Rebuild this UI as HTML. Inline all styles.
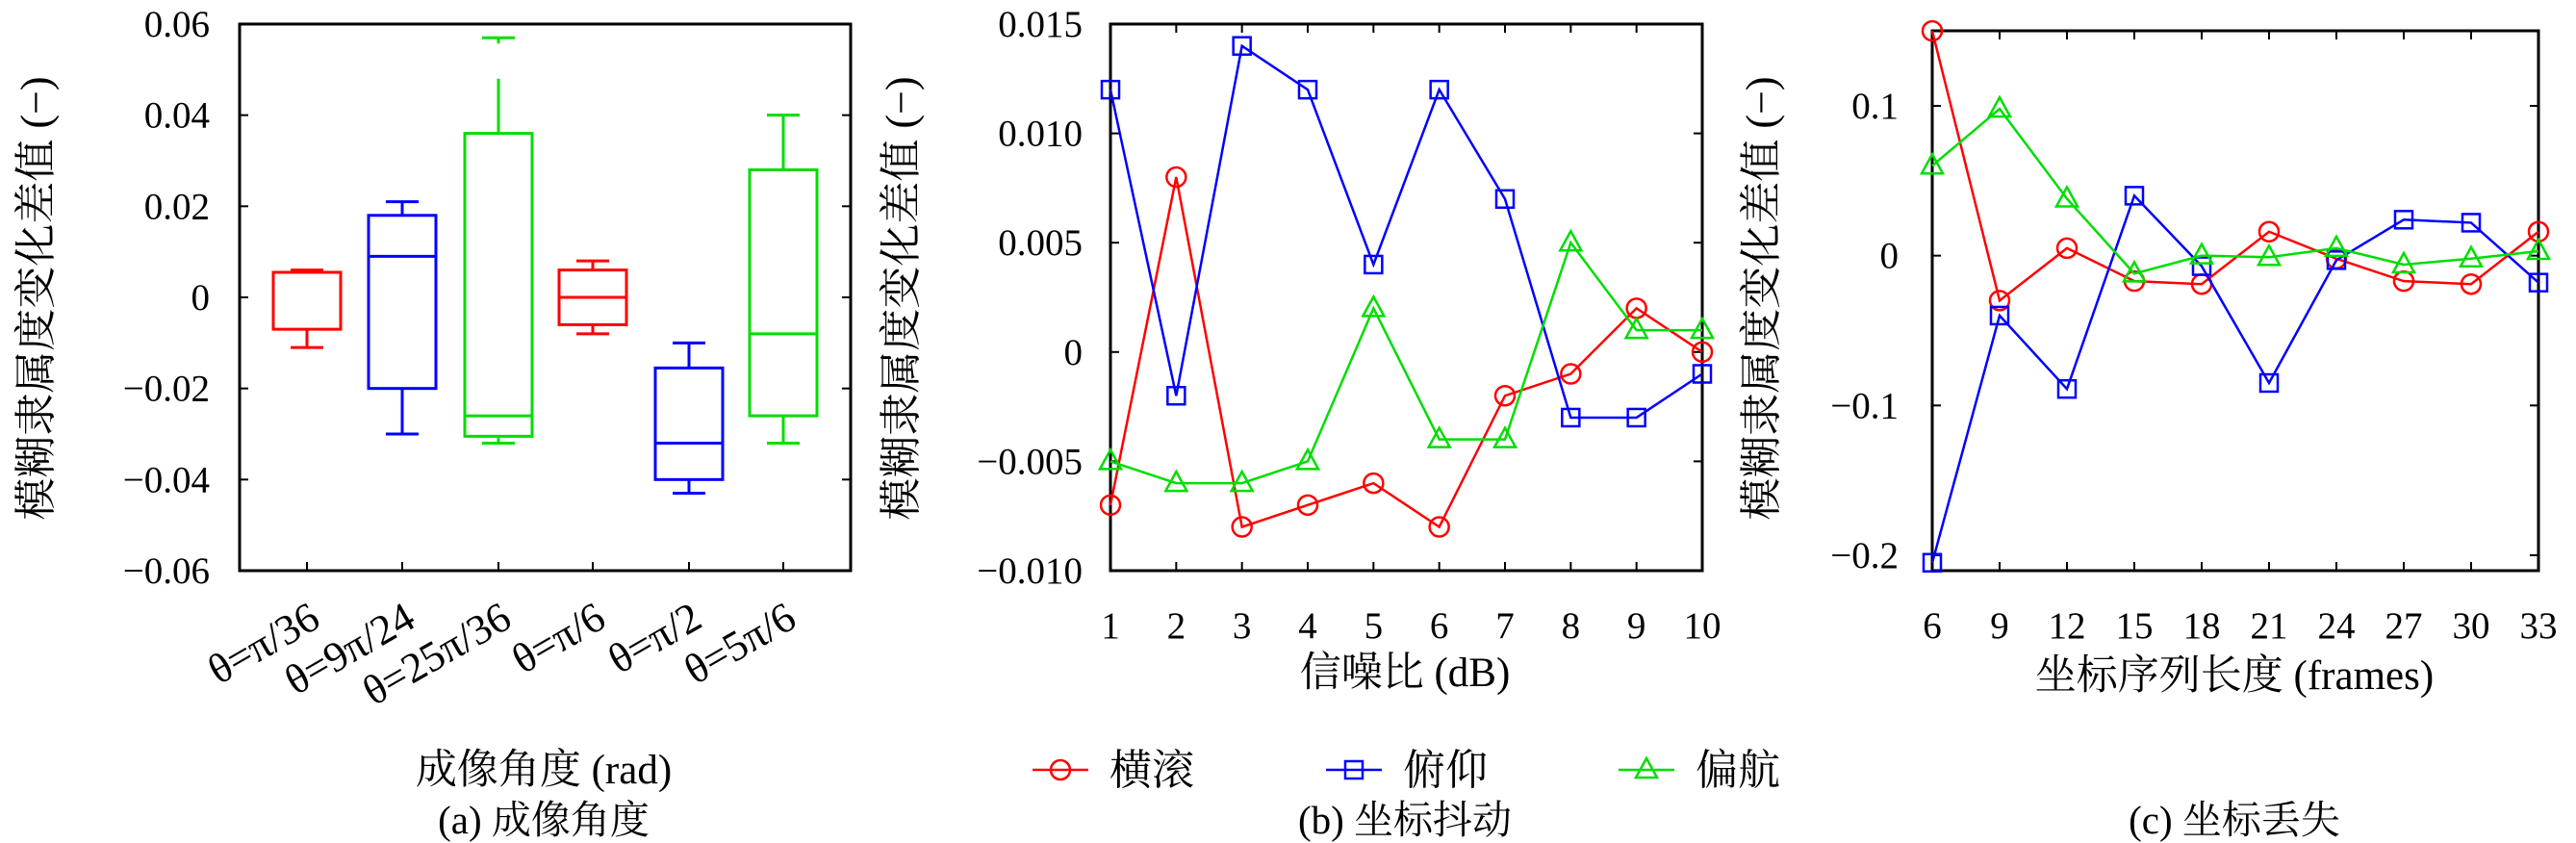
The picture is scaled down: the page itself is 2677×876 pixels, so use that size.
<!DOCTYPE html>
<html><head><meta charset="utf-8"><style>
html,body{margin:0;padding:0;background:#fff}
svg{display:block}
text{font-family:"Liberation Serif","Noto Serif CJK SC","Noto Sans CJK SC",serif;fill:#000}
</style></head><body>
<svg id="fig" width="2677" height="876" viewBox="0 0 2677 876" xmlns="http://www.w3.org/2000/svg">
<g id="pa"></g>
<g id="pb"></g>
<g id="pc"></g>
<g id="legend"></g>
</svg>
<script>
// Panel a data
const aCats = ["θ=π/36","θ=9π/24","θ=25π/36","θ=π/6","θ=π/2","θ=5π/6"];
const aColors = ["#f00","#00f","#0d0","#f00","#00f","#0d0"];
const aWhiskLo = [-0.011,-0.030,-0.032,-0.008,-0.043,-0.032];
const aQ1 = [-0.007,-0.020,-0.0305,-0.006,-0.040,-0.026];
const aMed = [0.0055,0.009,-0.026,0,-0.032,-0.008];
const aQ3 = [0.0055,0.018,0.036,0.006,-0.0155,0.028];
const aWhiskHi = [0.006,0.021,0.048,0.008,-0.010,0.040];
const aOutlier = [null,null,0.057,null,null,null];
const aYTicks = [0.06,0.04,0.02,0,-0.02,-0.04,-0.06];
const aYLabels = ["0.06","0.04","0.02","0","−0.02","−0.04","−0.06"];
// Panel b data
const bX = [1,2,3,4,5,6,7,8,9,10];
const bRoll = [-0.007,0.008,-0.008,-0.007,-0.006,-0.008,-0.002,-0.001,0.002,0];
const bPitch = [0.012,-0.002,0.014,0.012,0.004,0.012,0.007,-0.003,-0.003,-0.001];
const bYaw = [-0.005,-0.006,-0.006,-0.005,0.002,-0.004,-0.004,0.005,0.001,0.001];
const bYTicks = [0.015,0.010,0.005,0,-0.005,-0.010];
const bYLabels = ["0.015","0.010","0.005","0","−0.005","−0.010"];
// Panel c data
const cX = [6,9,12,15,18,21,24,27,30,33];
const cRoll = [0.15,-0.03,0.005,-0.017,-0.019,0.016,-0.002,-0.017,-0.019,0.016];
const cPitch = [-0.205,-0.04,-0.089,0.04,-0.007,-0.085,-0.003,0.024,0.022,-0.018];
const cYaw = [0.06,0.098,0.038,-0.012,0.0,-0.001,0.005,-0.006,-0.002,0.003];
const cYTicks = [0.1,0,-0.1,-0.2];
const cYLabels = ["0.1","0","−0.1","−0.2"];

const NS="http://www.w3.org/2000/svg";
function mk(parent,tag,attrs,txt){const e=document.createElementNS(NS,tag);for(const k in attrs)e.setAttribute(k,attrs[k]);if(txt!==undefined)e.textContent=txt;parent.appendChild(e);return e;}
function lin(d0,d1,r0,r1){return v=>r0+(v-d0)*(r1-r0)/(d1-d0);}

function frame(g,L,R,T,B,ys,yVals,yLabs,xs,xVals,xLabs,ylabX,ytitleX,ytitleY,name){
  const box=mk(g,'rect',{x:L,y:T,width:R-L,height:B-T,fill:'none',stroke:'#000','stroke-width':3});
  
  
  yVals.forEach((v,i)=>{const y=ys(v);
    mk(g,'line',{x1:L,x2:L+9,y1:y,y2:y,stroke:'#000','stroke-width':2});
    mk(g,'line',{x1:R,x2:R-9,y1:y,y2:y,stroke:'#000','stroke-width':2});
    const t=mk(g,'text',{x:ylabX,y:y+13,'text-anchor':'end','font-size':39},yLabs[i]);
    
    
  });
  if(xs){xVals.forEach((v,i)=>{const x=xs(v);
    mk(g,'line',{x1:x,x2:x,y1:B,y2:B-9,stroke:'#000','stroke-width':2});
    mk(g,'line',{x1:x,x2:x,y1:T,y2:T+9,stroke:'#000','stroke-width':2});
    if(xLabs){const t=mk(g,'text',{x:x,y:663,'text-anchor':'middle','font-size':39},xLabs[i]);
      
      }
  });}
  const yt=mk(g,'text',{x:0,y:0,'text-anchor':'middle','font-size':44,transform:`translate(${ytitleX},${ytitleY}) rotate(-90)`},'模糊隶属度变化差值 (−)');
  
  
}

// Panel a
(function(){
  const g=document.getElementById('pa');
  const L=249,R=884,T=25,B=593;
  const ys=lin(0.06,-0.06,T,B);
  const xc=[319,418,518,616,716,814];
  frame(g,L,R,T,B,ys,aYTicks,aYLabels,null,null,null,218,52,310,'panel-a');
  const w=70;
  aCats.forEach((c,i)=>{
    const x=xc[i],col=aColors[i];
    mk(g,'line',{x1:x,x2:x,y1:B,y2:B-9,stroke:'#000','stroke-width':2});
    const bg=mk(g,'g',{stroke:col,'stroke-width':3,fill:'none'});
    
    
    mk(bg,'rect',{x:x-w/2,y:ys(aQ3[i]),width:w,height:ys(aQ1[i])-ys(aQ3[i])});
    mk(bg,'line',{x1:x-w/2,x2:x+w/2,y1:ys(aMed[i]),y2:ys(aMed[i])});
    mk(bg,'line',{x1:x,x2:x,y1:ys(aQ3[i]),y2:ys(aWhiskHi[i])});
    mk(bg,'line',{x1:x,x2:x,y1:ys(aQ1[i]),y2:ys(aWhiskLo[i])});
    const hiCap = aOutlier[i]!==null ? aOutlier[i] : aWhiskHi[i];
    mk(bg,'line',{x1:x-17,x2:x+17,y1:ys(hiCap),y2:ys(hiCap)});
    if(aOutlier[i]!==null) mk(bg,'line',{x1:x,x2:x,y1:ys(hiCap),y2:ys(hiCap)+6});
    mk(bg,'line',{x1:x-17,x2:x+17,y1:ys(aWhiskLo[i]),y2:ys(aWhiskLo[i])});
    const t=mk(g,'text',{x:0,y:0,'text-anchor':'end','font-size':44,transform:`translate(${x+16},${650}) rotate(-30)`},c);
    
    
  });
  const xt=mk(g,'text',{x:565,y:814,'text-anchor':'middle','font-size':43},'成像角度 (rad)');
  
  
  const cap=mk(g,'text',{x:565,y:866,'text-anchor':'middle','font-size':41},'(a) 成像角度');
  
  
})();

function marker(g,type,x,y,col){
  if(type==='o')return mk(g,'circle',{cx:x,cy:y,r:10,fill:'none',stroke:col,'stroke-width':2.5});
  if(type==='s')return mk(g,'rect',{x:x-9,y:y-9,width:18,height:18,fill:'none',stroke:col,'stroke-width':2.5});
  return mk(g,'polygon',{points:`${x},${y-12} ${x-11},${y+8} ${x+11},${y+8}`,fill:'none',stroke:col,'stroke-width':2.5});
}
function series(g,xs,ys,X,Y,col,type,name){
  const sg=mk(g,'g',{});
  
  
  mk(sg,'polyline',{points:X.map((v,i)=>xs(v)+','+ys(Y[i])).join(' '),fill:'none',stroke:col,'stroke-width':2.5});
  X.forEach((v,i)=>{const m=marker(sg,type,xs(v),ys(Y[i]),col);
    
    });
}

// Panel b
(function(){
  const g=document.getElementById('pb');
  const L=1154,R=1769,T=25,B=593;
  const ys=lin(0.015,-0.010,T,B), xs=lin(1,10,L,R);
  frame(g,L,R,T,B,ys,bYTicks,bYLabels,xs,bX,bX.map(String),1125,951,310,'panel-b');
  series(g,xs,ys,bX,bRoll,'#f00','o','series-roll-b');
  series(g,xs,ys,bX,bPitch,'#00f','s','series-pitch-b');
  series(g,xs,ys,bX,bYaw,'#0d0','t','series-yaw-b');
  const xt=mk(g,'text',{x:1460,y:713,'text-anchor':'middle','font-size':43},'信噪比 (dB)');
  
  
  const cap=mk(g,'text',{x:1460,y:866,'text-anchor':'middle','font-size':41},'(b) 坐标抖动');
  
  
})();

// Panel c
(function(){
  const g=document.getElementById('pc');
  const L=2008,R=2638,T=32,B=593;
  const ys=lin(0.1,-0.2,110,577), xs=lin(6,33,L,R);
  frame(g,L,R,T,B,ys,cYTicks,cYLabels,xs,cX,cX.map(String),1973,1845,310,'panel-c');
  series(g,xs,ys,cX,cRoll,'#f00','o','series-roll-c');
  series(g,xs,ys,cX,cPitch,'#00f','s','series-pitch-c');
  series(g,xs,ys,cX,cYaw,'#0d0','t','series-yaw-c');
  const xt=mk(g,'text',{x:2322,y:716,'text-anchor':'middle','font-size':43},'坐标序列长度 (frames)');
  
  
  const cap=mk(g,'text',{x:2322,y:866,'text-anchor':'middle','font-size':41},'(c) 坐标丢失');
  
  
})();

// Legend
(function(){
  const g=document.getElementById('legend');
  const items=[["横滚","#f00","o",1073],["俯仰","#00f","s",1378],["偏航","#0d0","t",1682]];
  items.forEach(it=>{
    const eg=mk(g,'g',{});
    
    
    mk(eg,'line',{x1:it[3],x2:it[3]+58,y1:800,y2:800,stroke:it[1],'stroke-width':2.5});
    marker(eg,it[2],it[3]+29,800,it[1]);
    mk(eg,'text',{x:it[3]+80,y:815,'font-size':44},it[0]);
  });
})();
</script>
</body></html>
